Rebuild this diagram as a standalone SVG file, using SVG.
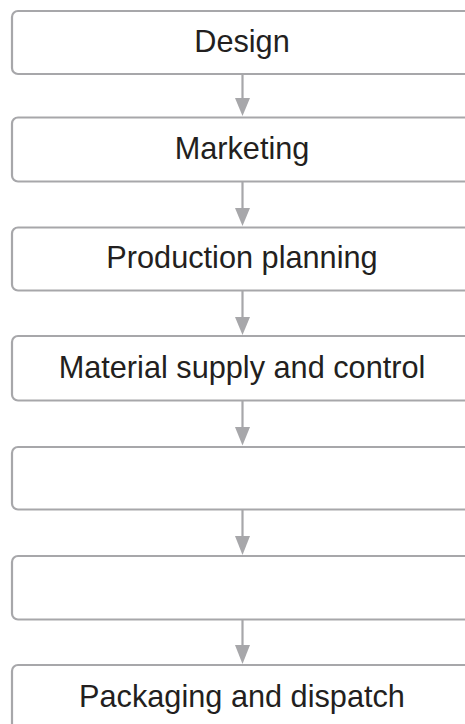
<svg xmlns="http://www.w3.org/2000/svg" width="465" height="724" viewBox="0 0 465 724">
<style>
.box{fill:#fff;stroke:#a7a7aa;stroke-width:2.2}
.lbl{font-family:"Liberation Sans",Arial,sans-serif;font-size:30.7px;fill:#231f20;text-anchor:middle}
.conn{stroke:#a7a7aa;stroke-width:2.2;fill:none}
.head{fill:#a7a7aa}
</style>
<rect width="465" height="724" fill="#fff"/>
<g id="connectors">
<line class="conn" x1="242.5" y1="74" x2="242.5" y2="100"/><polygon class="head" points="235,98 250,98 242.5,116"/>
<line class="conn" x1="242.5" y1="182" x2="242.5" y2="210"/><polygon class="head" points="235,208 250,208 242.5,226"/>
<line class="conn" x1="242.5" y1="291" x2="242.5" y2="319"/><polygon class="head" points="235,317 250,317 242.5,335"/>
<line class="conn" x1="242.5" y1="401" x2="242.5" y2="429"/><polygon class="head" points="235,427 250,427 242.5,445.5"/>
<line class="conn" x1="242.5" y1="510" x2="242.5" y2="538"/><polygon class="head" points="235,536 250,536 242.5,555"/>
<line class="conn" x1="242.5" y1="620" x2="242.5" y2="647"/><polygon class="head" points="235,645 250,645 242.5,664"/>
</g>
<g id="n1"><rect class="box" x="12" y="11" width="470" height="63" rx="6"/><text class="lbl" x="242" y="51.5">Design</text></g>
<g id="n2"><rect class="box" x="12" y="117.5" width="470" height="64" rx="6"/><text class="lbl" x="242" y="159">Marketing</text></g>
<g id="n3"><rect class="box" x="12" y="227.5" width="470" height="63" rx="6"/><text class="lbl" x="242" y="268">Production planning</text></g>
<g id="n4"><rect class="box" x="12" y="336" width="470" height="64.5" rx="6"/><text class="lbl" x="242" y="378">Material supply and control</text></g>
<g id="n5"><rect class="box" x="12" y="447" width="470" height="62.5" rx="6"/></g>
<g id="n6"><rect class="box" x="12" y="556" width="470" height="63.5" rx="6"/></g>
<g id="n7"><rect class="box" x="12" y="665" width="470" height="70" rx="6"/><text class="lbl" x="242" y="706.5">Packaging and dispatch</text></g>
</svg>
